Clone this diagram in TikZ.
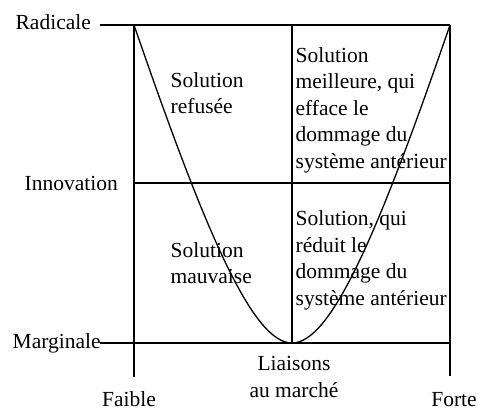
\documentclass[tikz,border=0pt]{standalone}
\usepackage{fontspec}
\setmainfont{Liberation Serif}
\begin{document}
\begin{tikzpicture}[x=1pt, y=-1pt, line width=1.3pt,
  txt/.style={inner sep=0pt, font=\fontsize{21.5}{26}\selectfont},
  lft/.style={txt, anchor=base west},
  mid/.style={txt, anchor=base}]
\useasboundingbox (0,0) rectangle (478,412);

% frame corners and grid points
\coordinate (TL) at (134,25);
\coordinate (TM) at (292,25);
\coordinate (TR) at (450,25);
\coordinate (ML) at (134,183);
\coordinate (MR) at (450,183);
\coordinate (BL) at (134,343);
\coordinate (BM) at (292,343);
\coordinate (BR) at (450,343);
\coordinate (BLend) at (134,377);
\coordinate (BRend) at (450,376);
\coordinate (radtick) at (100,25);
\coordinate (martick) at (100,343);

% axis labels
\node[lft] (rad) at (15,30) {Radicale};
\node[lft] (inn) at (24,190) {Innovation};
\node[lft] (mar) at (12,348) {Marginale};
\node[mid] (faible) at (129,406) {Faible};
\node[mid] (forte) at (454,406) {Forte};
\node[mid] (liai1) at (294,370) {Liaisons};
\node[mid] (liai2) at (294,397) {au marché};

% grid
\draw (radtick) -- (TR);
\draw (martick) -- (BR);
\draw (ML) -- (MR);
\draw (TL) -- (BLend);
\draw (TR) -- (BRend);
\draw (TM) -- (BM);

% curve
\draw (TR) .. controls (380,228) and (332,343) .. (BM)
           .. controls (252,343) and (204,228) .. (TL);

% quadrant texts
\node[lft] (q1a) at (170,87) {Solution};
\node[lft] (q1b) at (170,113) {refusée};

\node[lft] (q2a) at (295,62) {Solution};
\node[lft] (q2b) at (295,88) {meilleure, qui};
\node[lft] (q2c) at (295,115) {efface le};
\node[lft] (q2d) at (295,141) {dommage du};
\node[lft] (q2e) at (295,168) {système antérieur};

\node[lft] (q3a) at (170,257) {Solution};
\node[lft] (q3b) at (170,283) {mauvaise};

\node[lft] (q4a) at (295,225) {Solution, qui};
\node[lft] (q4b) at (295,252) {réduit le};
\node[lft] (q4c) at (295,278) {dommage du};
\node[lft] (q4d) at (295,305) {système antérieur};
\end{tikzpicture}
\end{document}
